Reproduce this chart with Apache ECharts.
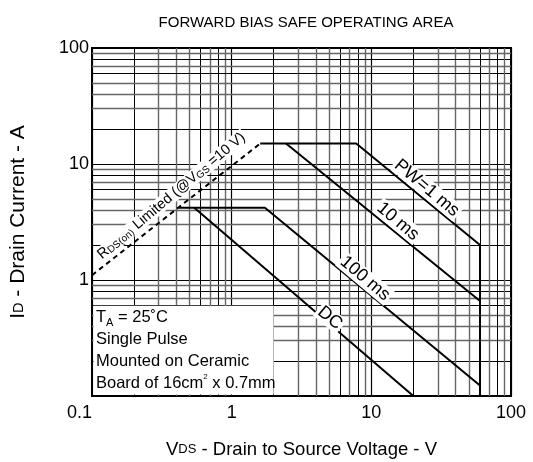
<!DOCTYPE html>
<html>
<head>
<meta charset="utf-8">
<script src="https://cdn.jsdelivr.net/npm/echarts@6/dist/echarts.min.js"></script>
<style>
html, body { margin: 0; padding: 0; background: #fff; }
#chart { width: 533px; height: 462px; }
</style>
</head>
<body>
<div id="chart"></div>
<script>
// log grid: decades and the minor multiples inside each one
var decades = [0.1, 1, 10];
var multiples = [2, 3, 4, 5, 6, 7, 8, 9];
var darkMultiples = [2, 6, 8];

// SOA boundaries, [V, A]
var rdsLimit = [[0.1, 1.1], [1.6, 15]];
var pw1ms = [[1.6, 15], [7.8, 15], [60, 2], [60, 0.1]];
var pw10ms = [[2.45, 15], [60, 0.66]];
var pw100ms = [[0.42, 4.2], [1.73, 4.2], [60, 0.123]];
var pwDC = [[0.54, 4.2], [20, 0.1]];

// conditions box corners (V range, A range)
var boxV = [0.1, 2];
var boxI = [0.6, 0.1];

var FONT = 'Liberation Sans';

var gridLines = [];
decades.forEach(function (d) {
    multiples.forEach(function (m) {
        var dark = darkMultiples.indexOf(m) >= 0;
        var style = dark ? {color: '#000', width: 1, type: 'solid'} : {color: '#666', width: 1.4, type: 'solid'};
        gridLines.push({xAxis: +(d * m).toPrecision(3), lineStyle: style});
        gridLines.push({yAxis: +(d * m).toPrecision(3), lineStyle: style});
    });
});

var myChart = echarts.init(document.getElementById('chart'));

function curve(data, dashed) {
    return {
        type: 'line',
        data: data,
        symbol: 'none',
        z: 5,
        silent: true,
        lineStyle: {color: '#000', width: 2, type: dashed ? [5, 4] : 'solid'}
    };
}

function tag(text, coord, rot, size, rich) {
    return {
        coord: coord,
        symbolSize: 0,
        label: {
            show: true,
            position: 'inside',
            formatter: text,
            rotate: rot,
            color: '#000',
            fontFamily: FONT,
            fontSize: size,
            backgroundColor: '#fff',
            padding: [0, 2],
            rich: rich
        }
    };
}

var subRich = {
    n: {fontSize: 14.5, fontFamily: FONT, color: '#000'},
    s: {fontSize: 10, fontFamily: FONT, color: '#000', verticalAlign: 'bottom', padding: [4, 0, 0, 0]}
};

var option = {
    animation: false,
    textStyle: {fontFamily: FONT},
    title: {
        text: 'FORWARD BIAS SAFE OPERATING AREA',
        left: 301,
        top: 10,
        textAlign: 'center',
        textStyle: {fontFamily: FONT, fontWeight: 'normal', fontSize: 15, color: '#000'}
    },
    grid: {
        left: 92, right: 22, top: 48, bottom: 66,
        show: true, borderColor: '#000', borderWidth: 2,
        containLabel: false, outerBoundsMode: 'none'
    },
    xAxis: {
        type: 'log', logBase: 10, min: 0.1, max: 100,
        name: '{b|V}{s|DS}{b| - Drain to Source Voltage - V}',
        nameLocation: 'middle', nameGap: 44,
        nameTextStyle: {rich: {
            b: {fontSize: 18.5, fontFamily: FONT, color: '#000'},
            s: {fontSize: 13, fontFamily: FONT, color: '#000'}
        }},
        axisLine: {lineStyle: {color: '#000', width: 2}},
        axisTick: {show: false},
        axisLabel: {color: '#000', fontSize: 18, margin: 8, fontFamily: FONT, alignMinLabel: 'right',
            formatter: function (v) { return String(+v.toPrecision(3)); }},
        splitLine: {show: true, lineStyle: {color: '#000', width: 1.2}}
    },
    yAxis: {
        type: 'log', logBase: 10, min: 0.1, max: 100,
        name: '{b|I}{s|D}{b| - Drain Current - A}',
        nameLocation: 'middle', nameGap: 63, nameRotate: 90,
        nameTextStyle: {rich: {
            b: {fontSize: 21, fontFamily: FONT, color: '#000'},
            s: {fontSize: 14.5, fontFamily: FONT, color: '#000'}
        }},
        axisLine: {lineStyle: {color: '#000', width: 2}},
        axisTick: {show: false},
        axisLabel: {color: '#000', fontSize: 18, margin: 3, fontFamily: FONT, showMinLabel: false,
            formatter: function (v) { return String(+v.toPrecision(3)); }},
        splitLine: {show: true, lineStyle: {color: '#000', width: 1.2}}
    },
    series: [
        {
            type: 'line', data: [], z: 1, silent: true,
            markLine: {z: 1, silent: true, symbol: ['none', 'none'], label: {show: false}, data: gridLines}
        },
        {
            type: 'custom', z: 3, silent: true,
            data: [[boxV[0], boxI[0], boxV[1], boxI[1]]],
            encode: {x: [0, 2], y: [1, 3]},
            renderItem: function (params, api) {
                var p0 = api.coord([api.value(0), api.value(1)]);
                var p1 = api.coord([api.value(2), api.value(3)]);
                var tStyle = {fontSize: 16.5, lineHeight: 22, fontFamily: FONT, fill: '#000'};
                return {
                    type: 'group',
                    children: [
                        {
                            type: 'rect',
                            shape: {x: p0[0] + 1.5, y: p0[1], width: p1[0] - p0[0] - 1.5, height: p1[1] - p0[1] - 1.5},
                            style: {fill: '#fff'}
                        },
                        {
                            type: 'text',
                            x: p0[0] + 4,
                            y: p0[1] + 1,
                            style: {
                                text: '{t|T}{s|A}{t| = 25˚C}\n{t|Single Pulse}\n{t|Mounted on Ceramic}\n{t|Board of 16cm}{u|2}{t| x 0.7mm}',
                                rich: {
                                    t: tStyle,
                                    s: {fontSize: 11, lineHeight: 22, fontFamily: FONT, fill: '#000', verticalAlign: 'bottom'},
                                    u: {fontSize: 8, lineHeight: 22, fontFamily: FONT, fill: '#000', verticalAlign: 'top'}
                                }
                            }
                        }
                    ]
                };
            }
        },
        curve(rdsLimit, true),
        curve(pw1ms),
        curve(pw10ms),
        curve(pw100ms),
        curve(pwDC),
        {
            type: 'line', data: [], z: 6, silent: true,
            markPoint: {
                z: 6,
                silent: true,
                symbol: 'circle',
                data: [
                    tag('PW=1 ms', [24.9, 6.2], -40, 18),
                    tag('10 ms', [15.5, 3.2], -40, 18),
                    tag('100 ms', [9.0, 1.03], -40, 18),
                    tag('DC', [5.06, 0.47], -40, 18),
                    tag('{n|R}{s|DS(on)}{n| Limited (@V}{s|GS}{n| =10 V)}', [0.37, 5.3], 40, 14.5, subRich)
                ]
            }
        }
    ]
};
myChart.setOption(option);
</script>
</body>
</html>
